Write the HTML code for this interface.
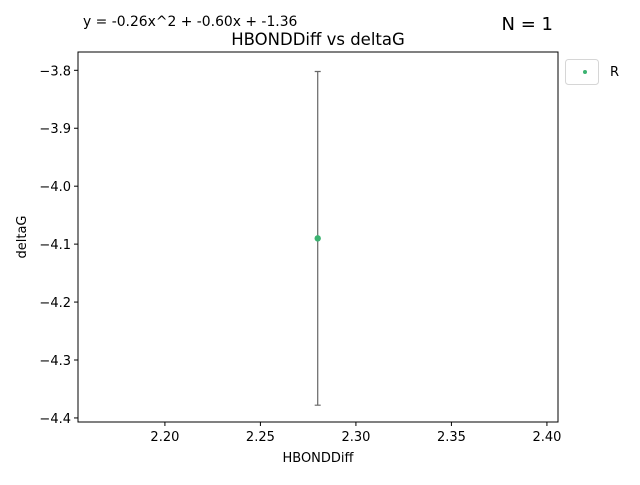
<!DOCTYPE html>
<html><head><meta charset="utf-8"><style>
body{margin:0;background:#fff;font-family:"Liberation Sans","DejaVu Sans",sans-serif;}
svg text{font-family:"DejaVu Sans","Liberation Sans",sans-serif;}
</style></head><body>
<svg width="640" height="480" viewBox="0 0 640 480">
<rect width="640" height="480" fill="#fff"/>
<g id="plot"></g>
<text x="83" y="26" font-size="13.9">y = -0.26x^2 + -0.60x + -1.36</text>
<text x="553" y="30" font-size="18" text-anchor="end">N = 1</text>
<text x="318" y="45" font-size="16.5" text-anchor="middle">HBONDDiff vs deltaG</text>
<text x="318" y="462" font-size="13" text-anchor="middle">HBONDDiff</text>
<text x="26" y="237" font-size="13" text-anchor="middle" transform="rotate(-90 26 237)">deltaG</text>
<g>
<rect x="565.5" y="59.5" width="33" height="25" rx="3" fill="#fff" stroke="#d6d6d6"/>
<circle cx="585" cy="72" r="2" fill="#3cb371"/>
<text x="610" y="76" font-size="13">R</text>
</g>
</svg>
<script>
const xs=[2.28];
const ys=[-4.09];
const errs=[0.288];
const xTicks=[2.20,2.25,2.30,2.35,2.40];
const yTicks=[-3.8,-3.9,-4.0,-4.1,-4.2,-4.3,-4.4];
const L=78,R=558,T=52,B=422;
const xMin=2.1545,xMax=2.4058,yMin=-4.407,yMax=-3.7684;
const sx=v=>L+(v-xMin)/(xMax-xMin)*(R-L);
const sy=v=>B-(v-yMin)/(yMax-yMin)*(B-T);
const g=document.getElementById('plot');
const NS='http://www.w3.org/2000/svg';
function mk(t,a){const e=document.createElementNS(NS,t);for(const k in a)e.setAttribute(k,a[k]);g.appendChild(e);return e;}
const fr=mk('rect',{x:L,y:T,width:R-L,height:B-T,fill:'none',stroke:'#000','stroke-width':1});


xTicks.forEach(v=>{const x=sx(v);
const t=mk('line',{x1:x,x2:x,y1:B,y2:B+4,stroke:'#000'});


const l=mk('text',{x:x,y:B+19,'font-size':13,'text-anchor':'middle'});l.textContent=v.toFixed(2);

});
yTicks.forEach(v=>{const y=sy(v);
const t=mk('line',{x1:L-4,x2:L,y1:y,y2:y,stroke:'#000'});


const l=mk('text',{x:L-7,y:y+5,'font-size':13,'text-anchor':'end'});l.textContent='\u2212'+Math.abs(v).toFixed(1);

});
xs.forEach((v,i)=>{const x=sx(v),y=sy(ys[i]),y1=sy(ys[i]+errs[i]),y2=sy(ys[i]-errs[i]);
const e=mk('path',{d:`M${x},${y1}V${y2}M${x-3},${y1}H${x+3}M${x-3},${y2}H${x+3}`,stroke:'#666','stroke-width':1.2,fill:'none'});


const c=mk('circle',{cx:x,cy:y,r:3.2,fill:'#3cb371'});

});
</script>
</body></html>
